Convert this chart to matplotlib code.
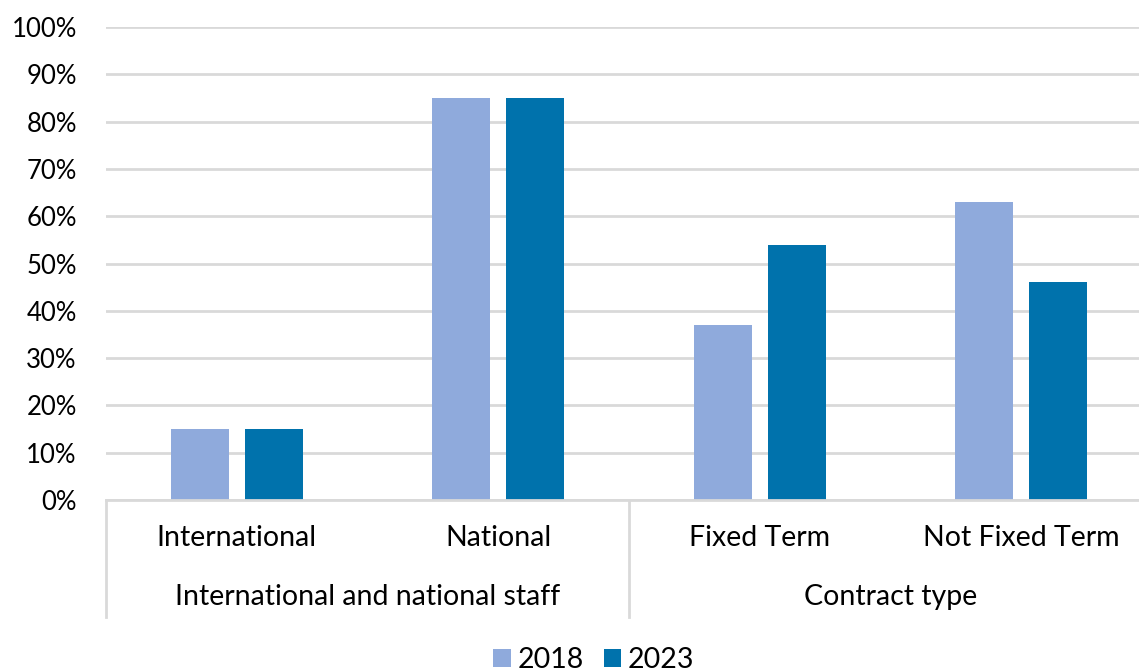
import matplotlib
matplotlib.use("Agg")
import matplotlib.pyplot as plt
from matplotlib.ticker import PercentFormatter
from matplotlib.patches import Patch
import numpy as np

categories = ["International", "National", "Fixed Term", "Not Fixed Term"]
groups = ["International and national staff", "Contract type"]
group_sizes = [2, 2]
series_names = ["2018", "2023"]
values_2018 = [15, 85, 37, 63]
values_2023 = [15, 85, 54, 46]
yticks = list(range(0, 101, 10))

colors = ["#8FAADC", "#0072AC"]
grid_color = "#D9D9D9"

plt.rcParams["font.family"] = ["Lato", "DejaVu Sans"]

W, H = 1139, 671
fig = plt.figure(figsize=(W / 100, H / 100), dpi=100)
left_px, right_px, top_px, bottom_px = 106, 1152, 27, 500
ax = fig.add_axes([left_px / W, 1 - bottom_px / H,
                   (right_px - left_px) / W, (bottom_px - top_px) / H])

x = np.arange(len(categories))
bw = 0.222
off = 0.1415
ax.bar(x - off, values_2018, bw, color=colors[0], zorder=3)
ax.bar(x + off, values_2023, bw, color=colors[1], zorder=3)

ax.set_xlim(-0.5, len(categories) - 0.5)
ax.set_ylim(0, 100)
ax.set_yticks(yticks)
ax.yaxis.set_major_formatter(PercentFormatter(decimals=0))
ax.tick_params(axis="y", length=0, pad=21, labelsize=18.5, labelcolor="#000000")
ax.set_xticks([])
ax.grid(axis="y", color=grid_color, linewidth=2, zorder=0)
for s in ["top", "right", "left"]:
    ax.spines[s].set_visible(False)
ax.spines["bottom"].set_color(grid_color)
ax.spines["bottom"].set_linewidth(2)
ax.spines["bottom"].set_zorder(4)

axes_h = bottom_px - top_px
def ay(py):
    return (bottom_px - py) / axes_h

trans = ax.get_xaxis_transform()
for xi, name in zip(x, categories):
    ax.text(xi, ay(538), name, transform=trans, ha="center", va="center",
            fontsize=20.5, color="#000000", clip_on=False)

start = 0
boundaries = [-0.5]
for g, n in zip(groups, group_sizes):
    center = start + (n - 1) / 2
    ax.text(center, ay(597), g, transform=trans, ha="center", va="center",
            fontsize=20.5, color="#000000", clip_on=False)
    start += n
    boundaries.append(start - 0.5)
for b in boundaries:
    ax.plot([b, b], [0, ay(617)], transform=trans, color=grid_color,
            linewidth=2, clip_on=False, zorder=4)

handles = [Patch(facecolor=c, label=n) for c, n in zip(colors, series_names)]
fig.legend(handles=handles, loc="center", bbox_to_anchor=(594 / W, 1 - 660 / H),
           ncol=2, frameon=False, fontsize=20.5, handlelength=0.6, handleheight=0.6,
           handletextpad=0.25, columnspacing=0.7, borderpad=0, borderaxespad=0)

fig.savefig("out.png", dpi=100)
